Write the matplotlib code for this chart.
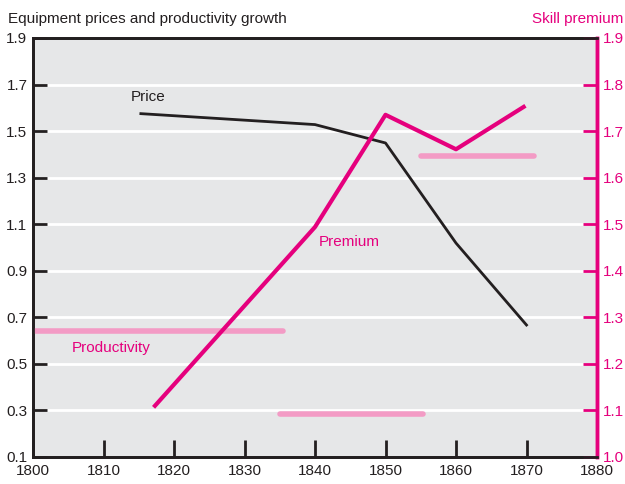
import numpy as np
import matplotlib.pyplot as plt

plt.rcParams['font.family'] = ['Liberation Sans', 'DejaVu Sans']

# données
price_years = [1815.3, 1840, 1850, 1860, 1870]
price = [1.575, 1.528, 1.449, 1.019, 0.667]

prem_years = [1817.3, 1840, 1850, 1860, 1869.6]
premium = [1.11, 1.494, 1.735, 1.661, 1.752]

# segments de productivité (début, fin, valeur)
prod_start = [1800, 1835, 1855]
prod_end = [1835.5, 1855.3, 1871]
prod_value = [0.641, 0.285, 1.393]

left_ticks = [0.1, 0.3, 0.5, 0.7, 0.9, 1.1, 1.3, 1.5, 1.7, 1.9]
right_ticks = [1.0, 1.1, 1.2, 1.3, 1.4, 1.5, 1.6, 1.7, 1.8, 1.9]
x_ticks = [1800, 1810, 1820, 1830, 1840, 1850, 1860, 1870, 1880]

magenta = '#e5007d'
pink = '#f39bc5'
dark = '#231f20'
bg = '#e6e7e8'
fs = 11

fig = plt.figure(figsize=(6.25, 4.84), dpi=100)
fig.patch.set_facecolor('white')
ax = fig.add_axes([0.0528, 0.0558, 0.9024, 0.8657])
ax.set_facecolor(bg)
ax.set_xlim(1800, 1880)
ax.set_ylim(0.1, 1.9)

# grille blanche
for y in left_ticks[1:-1]:
    ax.axhline(y, color='white', lw=2, zorder=1)

ax2 = ax.twinx()
ax2.set_ylim(1.0, 1.9)

# productivité
for s, e, v in zip(prod_start, prod_end, prod_value):
    ax.plot([s, e], [v, v], color=pink, lw=4, solid_capstyle='round', zorder=3)

# prix
ax.plot(price_years, price, color=dark, lw=2, zorder=4)

# prime
ax2.plot(prem_years, premium, color=magenta, lw=3, zorder=4)

ax.set_xticks(x_ticks)
ax.set_yticks(left_ticks)
ax.set_yticklabels([f'{t:.1f}' for t in left_ticks])
ax2.set_yticks(right_ticks)
ax2.set_yticklabels([f'{t:.1f}' for t in right_ticks])

ax.tick_params(axis='x', direction='in', length=12, width=2, color=dark,
               labelsize=fs, pad=5, labelcolor=dark)
ax.tick_params(axis='y', direction='in', length=10, width=2, color=dark,
               labelsize=fs, pad=4, labelcolor=dark)
ax2.tick_params(axis='y', direction='in', length=10, width=2, color=magenta,
                labelsize=fs, pad=4, labelcolor=magenta)

for a in (ax, ax2):
    for side in ['left', 'bottom', 'top']:
        a.spines[side].set_color(dark)
        a.spines[side].set_linewidth(2)
    a.spines['right'].set_color(magenta)
    a.spines['right'].set_linewidth(2.5)

# étiquettes
ax.text(1813.8, 1.63, 'Price', color=dark, fontsize=fs)
ax.text(1840.5, 1.005, 'Premium', color=magenta, fontsize=fs)
ax.text(1805.5, 0.55, 'Productivity', color=magenta, fontsize=fs)

fig.text(0.013, 0.953, 'Equipment prices and productivity growth', color=dark,
         fontsize=fs)
fig.text(0.998, 0.953, 'Skill premium', color=magenta, fontsize=fs, ha='right')

fig.savefig('out.png', dpi=100)
